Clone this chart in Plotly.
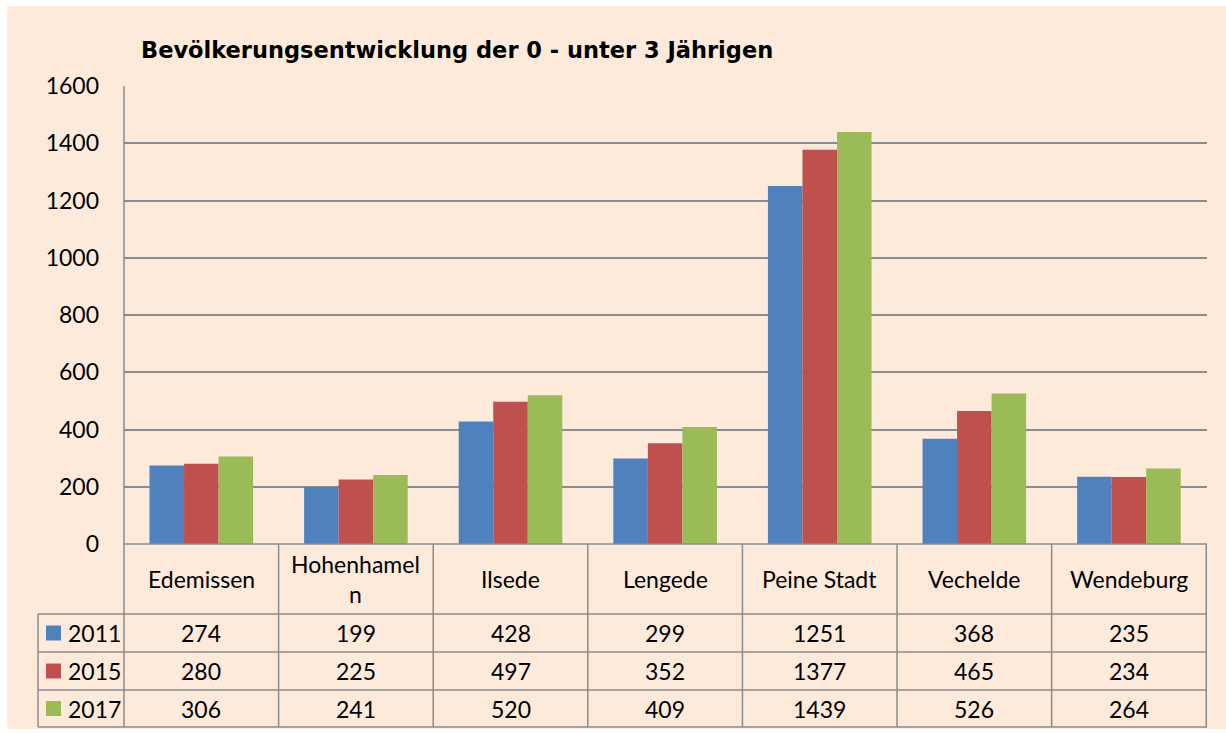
import plotly.graph_objects as go

categories = ["Edemissen", "Hohenhameln", "Ilsede", "Lengede", "Peine Stadt", "Vechelde", "Wendeburg"]
cat_labels = ["Edemissen", "Hohenhamel<br>n", "Ilsede", "Lengede", "Peine Stadt", "Vechelde", "Wendeburg"]
years = ["2011", "2015", "2017"]
v2011 = [274, 199, 428, 299, 1251, 368, 235]
v2015 = [280, 225, 497, 352, 1377, 465, 234]
v2017 = [306, 241, 520, 409, 1439, 526, 264]
series = [v2011, v2015, v2017]
colors = ["#4F81BD", "#C0504D", "#9BBB59"]
y_ticks = [0, 200, 400, 600, 800, 1000, 1200, 1400, 1600]

W, H = 1226, 734
L, R, T, B = 124, 1207, 86, 544
PW, PH = R - L, B - T
BG = "#FDEADA"
LINE = "#8C8C8C"
FONT = "Lato"
FS = 23


def px(x):
    return (x - L) / PW


def py(y):
    return (B - y) / PH


fig = go.Figure()
for name, vals, col in zip(years, series, colors):
    fig.add_trace(go.Bar(x=categories, y=vals, name=name, marker=dict(color=col, line=dict(width=0)),
                         hoverinfo="skip"))

shapes = []
shapes.append(dict(type="rect", xref="paper", yref="paper", x0=px(7), x1=px(1226), y0=py(6), y1=py(729),
                   fillcolor=BG, line=dict(width=0), layer="below"))
row_lines = [614, 652, 690, 727]
for yl in row_lines:
    shapes.append(dict(type="line", xref="paper", yref="paper", x0=px(38), x1=px(R), y0=py(yl), y1=py(yl),
                       line=dict(color=LINE, width=1.5)))
shapes.append(dict(type="line", xref="paper", yref="paper", x0=px(L), x1=px(R), y0=py(B), y1=py(B),
                   line=dict(color=LINE, width=1.5)))
shapes.append(dict(type="line", xref="paper", yref="paper", x0=px(38), x1=px(38), y0=py(614), y1=py(727),
                   line=dict(color=LINE, width=1.5)))
shapes.append(dict(type="line", xref="paper", yref="paper", x0=0, x1=0, y0=1, y1=py(727),
                   line=dict(color=LINE, width=1.5)))
for i in range(len(categories)):
    xv = i + 0.5
    shapes.append(dict(type="line", xref="x", yref="paper", x0=xv, x1=xv, y0=0, y1=py(727),
                       line=dict(color=LINE, width=1.5)))

annotations = []
for i, lab in enumerate(cat_labels):
    annotations.append(dict(x=categories[i], y=py(579), xref="x", yref="paper", text=lab, showarrow=False,
                            font=dict(family=FONT, size=FS, color="#000"), xanchor="center", yanchor="middle"))
row_centers = [633, 671, 708.5]
for r, (name, vals, col) in enumerate(zip(years, series, colors)):
    yc = row_centers[r]
    shapes.append(dict(type="rect", xref="paper", yref="paper", x0=px(46), x1=px(61), y0=py(yc - 7.5), y1=py(yc + 7.5),
                       fillcolor=col, line=dict(width=0)))
    annotations.append(dict(x=px(66), y=py(yc), xref="paper", yref="paper", text=name, showarrow=False,
                            font=dict(family=FONT, size=FS, color="#000"), xanchor="left", yanchor="middle"))
    for i, v in enumerate(vals):
        annotations.append(dict(x=categories[i], y=py(yc), xref="x", yref="paper", text=str(v), showarrow=False,
                                font=dict(family=FONT, size=FS, color="#000"), xanchor="center", yanchor="middle"))

annotations.append(dict(x=px(139), y=py(50), xref="paper", yref="paper",
                        text="<b>Bevölkerungsentwicklung der 0 - unter 3 Jährigen</b>", showarrow=False,
                        font=dict(family="DejaVu Sans", size=22.5, color="#000"), xanchor="left", yanchor="middle"))

fig.update_layout(
    width=W, height=H,
    margin=dict(l=L, r=W - R, t=T, b=H - B),
    paper_bgcolor="white", plot_bgcolor="rgba(0,0,0,0)",
    barmode="group", bargap=0.33, bargroupgap=0,
    showlegend=False,
    shapes=shapes, annotations=annotations,
    font=dict(family=FONT, size=FS, color="#000"),
    xaxis=dict(showticklabels=False, showgrid=False, showline=False, zeroline=False, ticks=""),
    yaxis=dict(range=[0, 1600], tickvals=y_ticks, showgrid=True, gridcolor=LINE, gridwidth=1.5,
               zeroline=False, showline=False, ticks="", ticklabelstandoff=24,
               tickfont=dict(family=FONT, size=FS, color="#000")),
)

fig.write_html("out.html", config={"displayModeBar": False},
               post_script="document.body.style.margin='0';document.body.style.overflow='hidden';")
